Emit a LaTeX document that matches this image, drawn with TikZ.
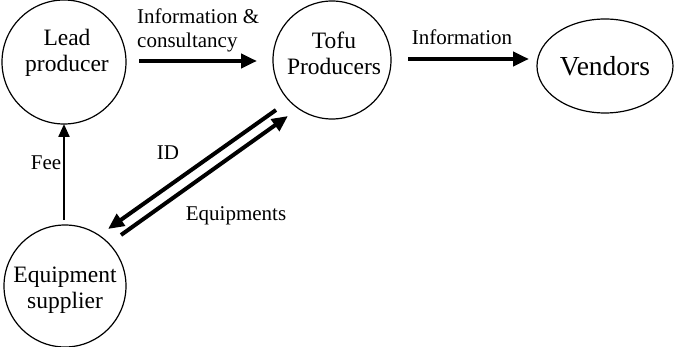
\documentclass[tikz,border=0pt]{standalone}
\usepackage{fontspec}
\setmainfont{Liberation Serif}
\usetikzlibrary{arrows.meta,shapes.geometric}
\begin{document}
\begin{tikzpicture}[x=1pt,y=-1pt,
  actor/.style={draw,line width=1.2pt,circle,inner sep=0pt},
  nodetext/.style={align=center,font=\fontsize{23.5}{26}\selectfont},
  lbl/.style={font=\fontsize{21}{26}\selectfont,inner sep=0pt},
  bigarrow/.style={line width=4pt,-{Triangle[length=16pt,width=14pt]}},
  thinarrow/.style={line width=2.2pt,-{Triangle[length=13pt,width=11pt]}}]
\useasboundingbox (0,0) rectangle (675,347);
\node[actor,minimum size=124pt] (lead) at (64,62) {};
\node[nodetext] (leadt) at (67,53) {Lead\\producer};
\node[actor,minimum size=118pt] (tofu) at (332,60) {};
\node[nodetext] (tofut) at (334,53) {Tofu\\Producers};
\node[draw,line width=1.2pt,ellipse,minimum width=136pt,minimum height=94pt,inner sep=0pt] (vend) at (605,66) {};
\node[font=\fontsize{27.5}{30}\selectfont] (vendt) at (605,66) {Vendors};
\node[actor,minimum size=122pt] (equip) at (65,286) {};
\node[nodetext] (equipt) at (65,290) {Equipment\\supplier};
% connectors
\coordinate (a1) at (139,61); \coordinate (b1) at (257,61);
\draw[bigarrow] (a1) -- (b1);
\coordinate (a2) at (408,59); \coordinate (b2) at (529,59);
\draw[bigarrow] (a2) -- (b2);
\coordinate (a3) at (64,220); \coordinate (b3) at (64,124);
\draw[thinarrow] (a3) -- (b3);
\coordinate (a4) at (276,110); \coordinate (b4) at (108,229);
\draw[bigarrow] (a4) -- (b4);
\coordinate (a5) at (121,235); \coordinate (b5) at (288,116);
\draw[bigarrow] (a5) -- (b5);
% labels
\node[lbl,anchor=west] (l1) at (137,16) {Information \&};
\node[lbl,anchor=west] (l2) at (137,42) {consultancy};
\node[lbl] (l3) at (462,37) {Information};
\node[lbl] (l4) at (46,163) {Fee};
\node[lbl] (l5) at (168,153) {ID};
\node[lbl] (l6) at (236,216) {Equipments};
\end{tikzpicture}
\end{document}
